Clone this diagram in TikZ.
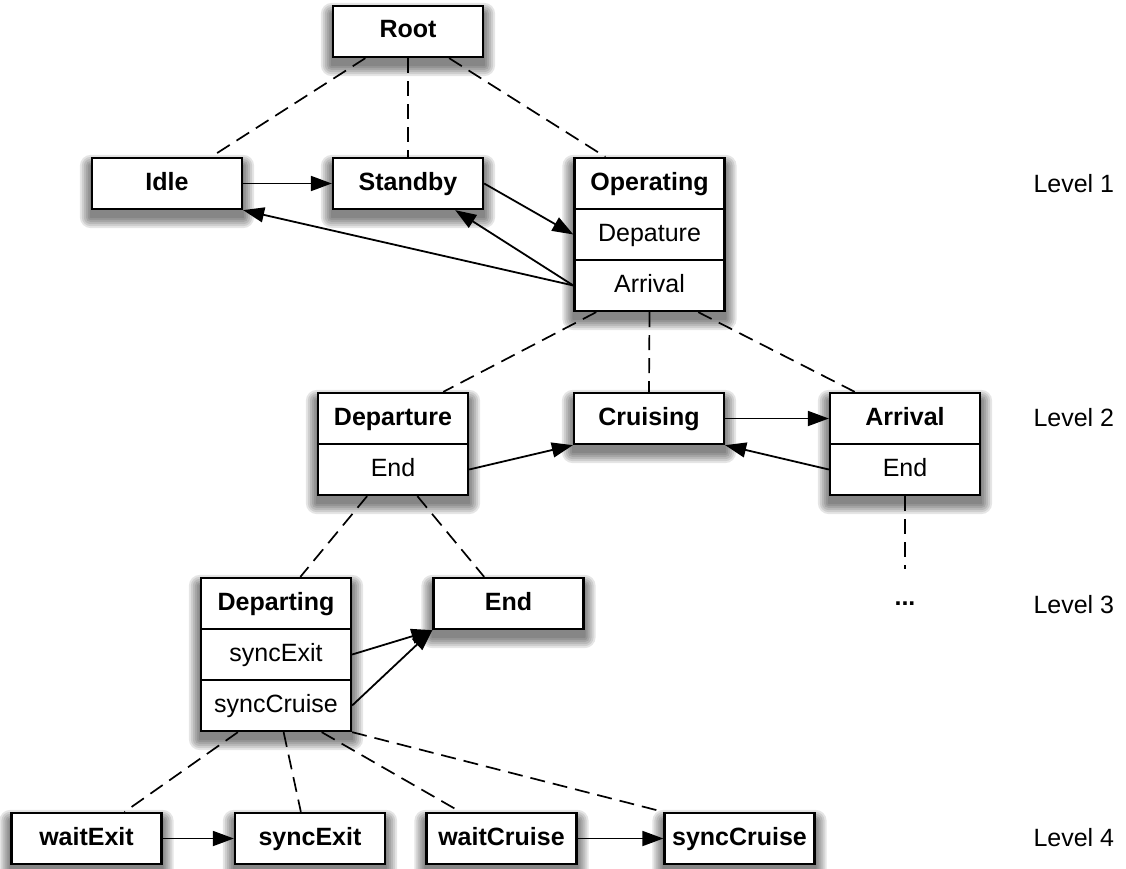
\documentclass[tikz,border=0pt]{standalone}
\usepackage{fontspec}
\setmainfont{Liberation Sans}
\usetikzlibrary{arrows.meta,calc,fit}
\pgfdeclarelayer{shadowlayer}
\pgfdeclarelayer{background}
\pgfsetlayers{shadowlayer,background,main}

\tikzset{
  base/.style={font=\fontsize{25}{29}\selectfont},
  box/.style={base, draw, line width=2.3pt, fill=white, minimum width=150pt,
    minimum height=51pt, inner sep=0pt, text height=18pt, text depth=5pt},
  hdr/.style={box, font=\fontsize{25}{29}\selectfont\bfseries},
  frame/.style={draw, line width=2.3pt, fill=white, inner sep=-1.15pt},
  link/.style={line width=1.8pt, -{Triangle[length=21pt,width=15pt]}},
  tree/.style={line width=1.7pt, dash pattern=on 15pt off 8pt},
  level/.style={base, anchor=west},
}

% soft drop shadow under a node: stacked translucent rounded rectangles
\newcommand\softshadow[1]{%
  \foreach \r in {11,9,7,5,3,1}{%
    \fill[black, opacity=0.1, rounded corners=\r pt]
      ($(#1.north west)+(-\r,-\r+9)$) rectangle ($(#1.south east)+(\r,\r+7)$);
  }%
}

\begin{document}
\begin{tikzpicture}[x=1pt,y=-1pt]
\useasboundingbox (0,0) rectangle (1126,869);

% level 0 / 1
\node[hdr] (root) at (408,31.5) {Root};
\node[hdr] (idle) at (167,183.5) {Idle};
\node[hdr] (standby) at (408,183.5) {Standby};
\node[hdr] (op) at (649.5,183.5) {Operating};
\node[box] (opDep) at (649.5,234.5) {Depature};
\node[box] (opArr) at (649.5,285.5) {Arrival};

% level 2
\node[hdr] (dep) at (393,418.5) {Departure};
\node[box] (depEnd) at (393,469.5) {End};
\node[hdr] (cruise) at (649,418.5) {Cruising};
\node[hdr] (arr) at (905,418.5) {Arrival};
\node[box] (arrEnd) at (905,469.5) {End};

% level 3
\node[hdr] (dpg) at (276,603.5) {Departing};
\node[box] (dpE) at (276,654.5) {syncExit};
\node[box] (dpC) at (276,705.5) {syncCruise};
\node[hdr] (end) at (508.5,603.5) {End};
\node[base, font=\fontsize{25}{29}\selectfont\bfseries] (dots) at (905,604) {...};
\coordinate (dotsTop) at (905,569);

% level 4
\node[hdr] (waitExit) at (86.5,838.5) {waitExit};
\node[hdr] (syncExit) at (310,838.5) {syncExit};
\node[hdr] (waitCruise) at (501.5,838.5) {waitCruise};
\node[hdr] (syncCruise) at (739.5,838.5) {syncCruise};

% outer frames of the composite states
\begin{pgfonlayer}{background}
  \node[frame, fit=(op)(opArr)] (opFrame) {};
  \node[frame, fit=(dep)(depEnd)] (depFrame) {};
  \node[frame, fit=(arr)(arrEnd)] (arrFrame) {};
  \node[frame, fit=(dpg)(dpC)] (dpgFrame) {};
\end{pgfonlayer}

% shadows
\begin{pgfonlayer}{shadowlayer}
  \foreach \n in {root,idle,standby,opFrame,depFrame,cruise,arrFrame,
                  dpgFrame,end,waitExit,syncExit,waitCruise,syncCruise}{
    \softshadow{\n}
  }
\end{pgfonlayer}

% level labels
\node[level] (l1) at (1030,184) {Level 1};
\node[level] (l2) at (1030,418) {Level 2};
\node[level] (l3) at (1030,605) {Level 3};
\node[level] (l4) at (1030,838) {Level 4};

% hierarchy (dashed)
\draw[tree] ($(root.south west)!0.22!(root.south east)$) -- ($(idle.north west)!0.79!(idle.north east)$);
\draw[tree] (root.south) -- (standby.north);
\draw[tree] ($(root.south west)!0.77!(root.south east)$) -- ($(op.north west)!0.21!(op.north east)$);
\draw[tree] ($(opArr.south west)!0.15!(opArr.south east)$) -- ($(dep.north west)!0.83!(dep.north east)$);
\draw[tree] (opArr.south) -- (cruise.north);
\draw[tree] ($(opArr.south west)!0.82!(opArr.south east)$) -- ($(arr.north west)!0.17!(arr.north east)$);
\draw[tree] (arrEnd.south) -- (dotsTop);
\draw[tree] ($(depEnd.south west)!0.33!(depEnd.south east)$) -- ($(dpg.north west)!0.66!(dpg.north east)$);
\draw[tree] ($(depEnd.south west)!0.66!(depEnd.south east)$) -- ($(end.north west)!0.34!(end.north east)$);
\draw[tree] ($(dpC.south west)!0.25!(dpC.south east)$) -- ($(waitExit.north west)!0.75!(waitExit.north east)$);
\draw[tree] ($(dpC.south west)!0.55!(dpC.south east)$) -- ($(syncExit.north west)!0.44!(syncExit.north east)$);
\draw[tree] ($(dpC.south west)!0.8!(dpC.south east)$) -- ($(waitCruise.north west)!0.23!(waitCruise.north east)$);
\draw[tree] (dpC.south east) -- (syncCruise.north west);

% transitions
\draw[link] (idle.east) -- (standby.west);
\draw[link] (standby.east) -- (opDep.west);
\draw[link] (opArr.west) -- ($(standby.south west)!0.81!(standby.south east)$);
\draw[link] (opArr.west) -- (idle.south east);
\draw[link] (depEnd.east) -- (cruise.south west);
\draw[link] (cruise.east) -- (arr.west);
\draw[link] (arrEnd.west) -- (cruise.south east);
\draw[link] (dpE.east) -- (end.south west);
\draw[link] (dpC.east) -- (end.south west);
\draw[link] (waitExit.east) -- (syncExit.west);
\draw[link] (waitCruise.east) -- (syncCruise.west);
\end{tikzpicture}
\end{document}
